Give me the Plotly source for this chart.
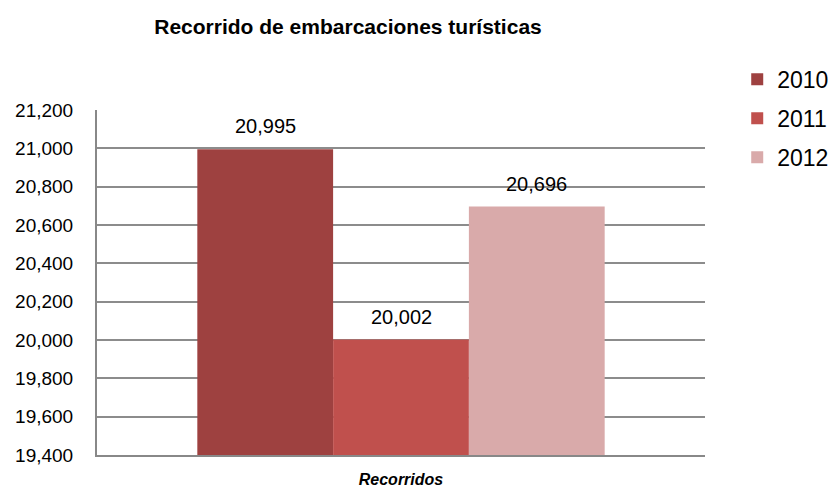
import plotly.graph_objects as go

categories = ["Recorridos"]
years = ["2010", "2011", "2012"]
values = [20995, 20002, 20696]
colors = ["#9E4140", "#C0504D", "#D9AAAA"]
tick_vals = [19400, 19600, 19800, 20000, 20200, 20400, 20600, 20800, 21000, 21200]

BARGAP = 0.33
W, H = 829, 479  # browser body margin of 8px is accounted for

fig = go.Figure()
for y, v, c in zip(years, values, colors):
    fig.add_trace(go.Bar(
        x=categories, y=[v], name=y, legendgroup=y,
        marker_color=c, marker_line_width=0,
    ))

# data labels placed above each bar using data units of the category axis
n = len(years)
bw = (1 - BARGAP) / n
for k, v in enumerate(values):
    fig.add_annotation(
        x=(k - (n - 1) / 2) * bw, y=v, xref="x", yref="y",
        text=f"{v:,}", showarrow=False, yanchor="bottom", yshift=10,
        font=dict(size=20, color="black", family="Liberation Sans"),
    )

fig.update_layout(
    width=W, height=H,
    margin=dict(l=89, r=132, t=102, b=32, autoexpand=False),
    paper_bgcolor="white", plot_bgcolor="white",
    barmode="group", bargap=BARGAP, bargroupgap=0,
    font=dict(family="Liberation Sans", color="black"),
    title=dict(text="<b>Recorrido de embarcaciones turísticas</b>",
               x=340 / W, xanchor="center", y=1 - 19 / H, yanchor="middle",
               font=dict(size=21, family="Liberation Sans")),
    legend=dict(x=1.053, xanchor="left", y=1.151, yanchor="top",
                font=dict(size=23, family="Liberation Sans"),
                tracegroupgap=6, itemwidth=30),
    xaxis=dict(showline=True, linecolor="#888888", linewidth=2,
               tickvals=[0], ticktext=["<b><i>Recorridos</i></b>"],
               range=[-0.5, 0.5],
               tickfont=dict(size=16), ticks="", ticklabelstandoff=9),
    yaxis=dict(range=[19400, 21200], tickvals=tick_vals, tickformat=",",
               showgrid=True, gridcolor="#8C8C8C", gridwidth=2,
               showline=True, linecolor="#888888", linewidth=2,
               ticks="", tickfont=dict(size=19), zeroline=False,
               ticklabelstandoff=18),
)

fig.write_html("out.html")
